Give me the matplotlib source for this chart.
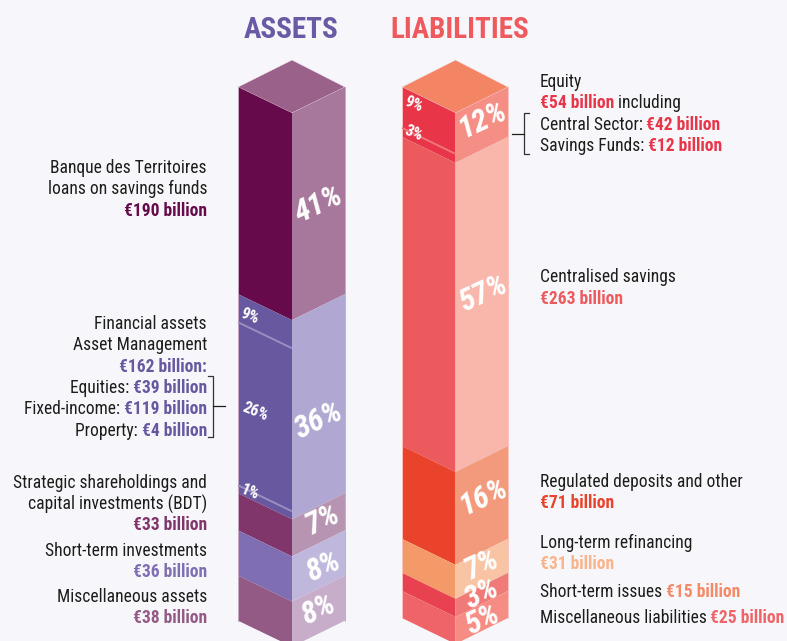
import numpy as np
import matplotlib
matplotlib.use('Agg')
import matplotlib.pyplot as plt
from matplotlib.patches import Polygon

# block heights, in % of column height (the drawing is not exactly to scale)
asset_heights = [39.0, 37.5, 7.0, 8.5, 8.5]
asset_labels = ['41%', '36%', '7%', '8%', '8%']
asset_left_colors = ['#660a4b', '#67589f', '#80366b', '#7f6eb2', '#945a86']
asset_right_colors = ['#a8789c', '#b0a8d2', '#b795b2', '#c0b7dc', '#c7adc9']
asset_sub_labels = ['9%', '26%', '1%']
asset_sub_lines = [5.3, 36.0]   # distance of the light lines below the top of the 36% block

liab_heights = [9.4, 58.2, 17.5, 6.4, 3.4, 5.1]
liab_labels = ['12%', '57%', '16%', '7%', '3%', '5%']
liab_left_colors = ['#e83548', '#ec5a5e', '#ea432b', '#f49a68', '#e8414f', '#ef6468']
liab_right_colors = ['#f58f85', '#f9b6ab', '#f39a7c', '#f9c4a4', '#ef7a78', '#f68d84']
liab_sub_labels = ['9%', '3%']
liab_sub_line = 7.7

PX = 5.31   # pixels per % on the column
fig = plt.figure(figsize=(7.87, 6.41), dpi=100, facecolor='#f7f7fb')
ax = fig.add_axes([0, 0, 1, 1])
ax.set_xlim(0, 787)
ax.set_ylim(641, 0)
ax.axis('off')

plt.rcParams['font.family'] = ['Roboto Condensed', 'Liberation Sans', 'DejaVu Sans']
FS = 12.65


def draw_column(x0, x1, x2, heights, left_colors, right_colors, top_color, edge):
    y = 113.0
    ax.add_patch(Polygon([(x0, 87), (x1, 60), (x2, 87), (x1, 113)], fc=top_color, ec='#f4e4ee', lw=0.4))
    for h, lc, rc in zip(heights, left_colors, right_colors):
        y2 = y + h * PX
        ax.add_patch(Polygon([(x0, y - 26), (x1, y), (x1, y2), (x0, y2 - 26)], fc=lc, ec='none'))
        ax.add_patch(Polygon([(x1, y), (x2, y - 26), (x2, y2 - 26), (x1, y2)], fc=rc, ec='none'))
        y = y2
    ax.plot([x0, x0], [87, y - 26], color=edge, lw=0.7)
    ax.plot([x2, x2], [87, y - 26], color=edge, lw=0.7)


def runs(x, y, parts, align='left'):
    # parts = list of (text, color, bold); laid out one after another
    r = fig.canvas.get_renderer()
    items = [ax.text(0, y, t, color=c, fontsize=FS, fontweight='bold' if b else 'normal', va='center', ha='left')
             for t, c, b in parts]
    widths = [i.get_window_extent(r).width for i in items]
    cur = x - sum(widths) if align == 'right' else x
    for it, w in zip(items, widths):
        it.set_x(cur)
        cur += w


draw_column(238, 292, 345, asset_heights, asset_left_colors, asset_right_colors, '#9a628b', '#c9a9c4')
draw_column(402, 455.5, 508, liab_heights, liab_left_colors, liab_right_colors, '#f38565', '#f9c5bd')

# thin lines on the left faces
top36 = 113 + asset_heights[0] * PX
for d in asset_sub_lines:
    yy = top36 + d * PX
    ax.plot([238, 292], [yy - 26, yy], color='#9a8fc2', lw=1.4, solid_capstyle='butt')
yy = 113 + liab_sub_line * PX
ax.plot([402, 455.5], [yy - 26, yy], color='#f0757a', lw=1.4, solid_capstyle='butt')

# percent labels on the faces
face_xy = [(319, 205), (319, 421), (323, 520), (323, 567), (318, 610)]
for lab, (x, y) in zip(asset_labels, face_xy):
    ax.text(x, y, lab, color='white', fontsize=22.5, fontweight='bold', style='italic', rotation=25,
            ha='center', va='center', rotation_mode='anchor')
face_xy = [(483, 120), (483, 294), (484, 497), (482, 565), (482, 594), (482, 620)]
for lab, (x, y) in zip(liab_labels, face_xy):
    ax.text(x, y, lab, color='white', fontsize=22.5, fontweight='bold', style='italic', rotation=25,
            ha='center', va='center', rotation_mode='anchor')

for lab, x, y in zip(asset_sub_labels, [250, 255, 250], [316, 412, 492]):
    ax.text(x, y, lab, color='white', fontsize=11.5, fontweight='bold', rotation=-22, ha='center', va='center')
for lab, x, y in zip(liab_sub_labels, [414, 414], [104, 133]):
    ax.text(x, y, lab, color='white', fontsize=11.5, fontweight='bold', rotation=-22, ha='center', va='center')

# titles
ax.text(291.5, 30, 'ASSETS', color='#6a5aa5', fontsize=21, fontweight='bold', ha='center', va='center')
ax.text(460, 30, 'LIABILITIES', color='#ee5a5e', fontsize=21, fontweight='bold', ha='center', va='center')

BLK = '#1d1d1b'
PUR = '#660a4b'
VIO = '#67589f'
MAU = '#945a86'
RED = '#e83548'
COR = '#ec5a5e'
ORA = '#ea432b'
PEA = '#f9b48a'
SAL = '#f58a68'

left_lines = [
    (168, [('Banque des Territoires', BLK, False)]),
    (189, [('loans on savings funds', BLK, False)]),
    (211, [('€190 billion', PUR, True)]),
    (324, [('Financial assets', BLK, False)]),
    (345, [('Asset Management', BLK, False)]),
    (367, [('€162 billion:', VIO, True)]),
    (388, [('Equities: ', BLK, False), ('€39 billion', VIO, True)]),
    (409, [('Fixed-income: ', BLK, False), ('€119 billion', VIO, True)]),
    (431, [('Property: ', BLK, False), ('€4 billion', VIO, True)]),
    (483, [('Strategic shareholdings and', BLK, False)]),
    (504, [('capital investments (BDT)', BLK, False)]),
    (525, [('€33 billion', '#80366b', True)]),
    (551, [('Short-term investments', BLK, False)]),
    (572, [('€36 billion', '#7f6eb2', True)]),
    (597, [('Miscellaneous assets', BLK, False)]),
    (618, [('€38 billion', MAU, True)]),
]
right_lines = [
    (82, [('Equity', BLK, False)]),
    (103, [('€54 billion', RED, True), (' including', BLK, False)]),
    (125, [('Central Sector: ', BLK, False), ('€42 billion', RED, True)]),
    (146, [('Savings Funds: ', BLK, False), ('€12 billion', RED, True)]),
    (277, [('Centralised savings', BLK, False)]),
    (299, [('€263 billion', COR, True)]),
    (482, [('Regulated deposits and other', BLK, False)]),
    (503, [('€71 billion', ORA, True)]),
    (543, [('Long-term refinancing', BLK, False)]),
    (564, [('€31 billion', PEA, True)]),
    (592, [('Short-term issues ', BLK, False), ('€15 billion', SAL, True)]),
    (618, [('Miscellaneous liabilities ', BLK, False), ('€25 billion', '#ef6468', True)]),
]
for y, parts in left_lines:
    runs(207, y, parts, align='right')
for y, parts in right_lines:
    runs(539.5, y, parts)

# brackets
ax.plot([208, 212.5, 212.5, 208], [376, 376, 437, 437], color='#333333', lw=0.9)
ax.plot([212.5, 225], [406, 406], color=BLK, lw=0.9)
ax.plot([529, 524, 524, 529], [113, 113, 154, 154], color='#333333', lw=0.9)
ax.plot([512, 524], [134, 134], color=BLK, lw=0.9)

fig.savefig('out.png', dpi=100, facecolor=fig.get_facecolor())
